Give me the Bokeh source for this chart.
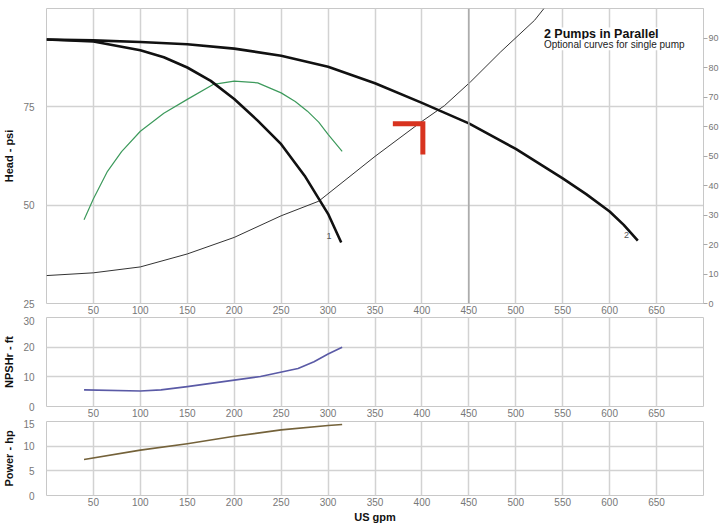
from bokeh.plotting import figure
from bokeh.models import Range1d, LinearAxis, FixedTicker, Label, Span
from bokeh.layouts import column
from bokeh.embed import file_html
from bokeh.resources import INLINE

# ---------------- data ----------------
gpm_ticks = [50, 100, 150, 200, 250, 300, 350, 400, 450, 500, 550, 600, 650]
head_ticks = [25, 50, 75]
eff_ticks = [0, 10, 20, 30, 40, 50, 60, 70, 80, 90]
npsh_ticks = [0, 10, 20, 30]
power_ticks = [0, 5, 10, 15]

parallel_gpm = [0, 50, 100, 150, 200, 250, 300, 350, 400, 450, 500, 550, 575, 600,
                615, 630]
parallel_head = [92.1, 91.9, 91.5, 90.9, 89.8, 88.0, 85.2, 81.0, 76.0, 70.8,
                 64.3, 56.8, 52.8, 48.4, 45.0, 41.0]

single_gpm = [0, 50, 100, 125, 150, 175, 200, 225, 250, 275, 300, 314]
single_head = [92.1, 91.6, 89.4, 87.6, 85.0, 81.6, 77.0, 71.5, 65.5, 57.5, 47.8, 40.5]

system_gpm = [0, 50, 100, 150, 200, 250, 290, 350, 400, 424, 452, 484, 520, 530]
system_head = [32.1, 32.8, 34.3, 37.6, 41.8, 47.3, 51.0, 62.4, 71.3, 75.3, 81.4,
               89.0, 97.0, 100.0]

eff_gpm = [40, 50, 65, 80, 100, 125, 150, 178, 200, 225, 250, 265, 278, 290, 300, 315]
eff_pct = [28.4, 35.5, 44.8, 51.5, 58.4, 64.5, 69.2, 74.3, 75.4, 74.8, 71.4, 68.5,
           65.2, 61.5, 57.3, 51.6]

npsh_gpm = [40, 100, 122, 150, 200, 228, 253, 268, 285, 300, 315]
npsh_ft = [5.6, 5.2, 5.6, 6.7, 8.9, 10.1, 11.8, 12.8, 15.1, 17.7, 20.0]

power_gpm = [40, 100, 150, 200, 250, 300, 315]
power_hp = [7.3, 9.2, 10.5, 12.0, 13.3, 14.2, 14.4]

marker_gpm = [369, 401, 401]
marker_head = [70.7, 70.7, 62.9]

highlight_gpm = 450
curve_labels = ["1", "2"]
curve_label_gpm = [301, 618]
curve_label_head = [42.2, 42.4]

title_text = "2 Pumps in Parallel"
subtitle_text = "Optional curves for single pump"

FONT = "Liberation Sans"
FW = 657
X_RANGE = Range1d(0, 700)


def style(p, xstand=2):
    p.outline_line_color = "#c8c8c8"
    p.grid.grid_line_color = "#d2d2d2"
    p.grid.grid_line_width = 1.5
    p.background_fill_color = "white"
    p.border_fill_color = "white"
    for ax in p.axis:
        ax.axis_line_color = None
        ax.major_tick_line_color = None
        ax.minor_tick_line_color = None
        ax.major_tick_out = 0
        ax.major_tick_in = 0
        ax.minor_tick_out = 0
        ax.minor_tick_in = 0
        ax.major_label_text_font = FONT
        ax.major_label_text_font_size = "10px"
        ax.major_label_text_color = "#777777"
        ax.axis_label_text_font = FONT
        ax.axis_label_text_font_style = "bold"
        ax.axis_label_text_font_size = "11px"
        ax.axis_label_text_color = "#111111"
    p.xaxis.major_label_standoff = xstand
    p.yaxis.major_label_standoff = 12
    p.yaxis.axis_label_standoff = 5
    p.xaxis.ticker = FixedTicker(ticks=gpm_ticks)


# ---------------- main head plot ----------------
p1 = figure(output_backend="svg", toolbar_location=None,
            frame_width=FW, frame_height=295,
            x_range=X_RANGE, y_range=Range1d(25, 100),
            min_border_left=46, min_border_top=8, min_border_bottom=0,
            min_border_right=0)
p1.extra_y_ranges = {"eff": Range1d(0, 100)}
style(p1)
p1.yaxis.ticker = FixedTicker(ticks=head_ticks)
p1.yaxis.axis_label = "Head - psi"

eff_axis = LinearAxis(y_range_name="eff", ticker=FixedTicker(ticks=eff_ticks))
eff_axis.axis_line_color = "#c8c8c8"
eff_axis.major_tick_line_color = "#aaaaaa"
eff_axis.major_tick_out = 4
eff_axis.major_tick_in = 0
eff_axis.minor_tick_line_color = None
eff_axis.minor_tick_out = 0
eff_axis.major_label_standoff = 1
eff_axis.major_label_text_font = FONT
eff_axis.major_label_text_font_size = "9px"
eff_axis.major_label_text_color = "#777777"
p1.add_layout(eff_axis, "right")

p1.add_layout(Span(location=highlight_gpm, dimension="height",
                   line_color="#a8a8a8", line_width=1.5))

p1.line(system_gpm, system_head, line_color="#333333", line_width=1)
p1.line(eff_gpm, eff_pct, y_range_name="eff", line_color="#3d9a5c", line_width=1.2,
        line_join="round")
p1.line(parallel_gpm, parallel_head, line_color="#111111", line_width=2.6,
        line_join="round")
p1.line(single_gpm, single_head, line_color="#111111", line_width=2.6,
        line_join="round")
p1.line(marker_gpm, marker_head, line_color="#d8331f", line_width=5,
        line_join="miter", line_cap="butt")
p1.text(curve_label_gpm, curve_label_head, text=curve_labels,
        text_font_size="9px", text_color="#555555",
        text_align="center", text_baseline="middle")

p1.add_layout(Label(x=530, y=93.4, text=title_text, text_font=FONT,
                    text_font_style="bold", text_font_size="12.5px",
                    text_color="#111111", text_baseline="alphabetic",
                    background_fill_color="white"))
p1.add_layout(Label(x=530, y=90.8, text=subtitle_text, text_font=FONT,
                    text_font_size="10px", text_color="#222222",
                    text_baseline="alphabetic",
                    background_fill_color="white"))

# ---------------- NPSH plot ----------------
p2 = figure(output_backend="svg", toolbar_location=None,
            frame_width=FW, frame_height=89,
            x_range=X_RANGE, y_range=Range1d(0, 30),
            min_border_left=46, min_border_top=1, min_border_bottom=0,
            min_border_right=5)
style(p2)
p2.yaxis.ticker = FixedTicker(ticks=npsh_ticks)
p2.yaxis.axis_label = "NPSHr - ft"
p2.line(npsh_gpm, npsh_ft, line_color="#5a5aa6", line_width=1.6,
        line_join="round")

# ---------------- Power plot ----------------
p3 = figure(output_backend="svg", toolbar_location=None,
            frame_width=FW, frame_height=74,
            x_range=X_RANGE, y_range=Range1d(0, 15),
            min_border_left=46, min_border_top=2, min_border_bottom=0,
            min_border_right=5)
style(p3)
p3.yaxis.ticker = FixedTicker(ticks=power_ticks)
p3.yaxis.axis_label = "Power - hp"
p3.xaxis.axis_label = "US gpm"
p3.xaxis.axis_label_standoff = 2
p3.line(power_gpm, power_hp, line_color="#74623a", line_width=1.6,
        line_join="round")

layout = column(p1, p2, p3, spacing=0)

open("out.html", "w").write(file_html(layout, INLINE))
